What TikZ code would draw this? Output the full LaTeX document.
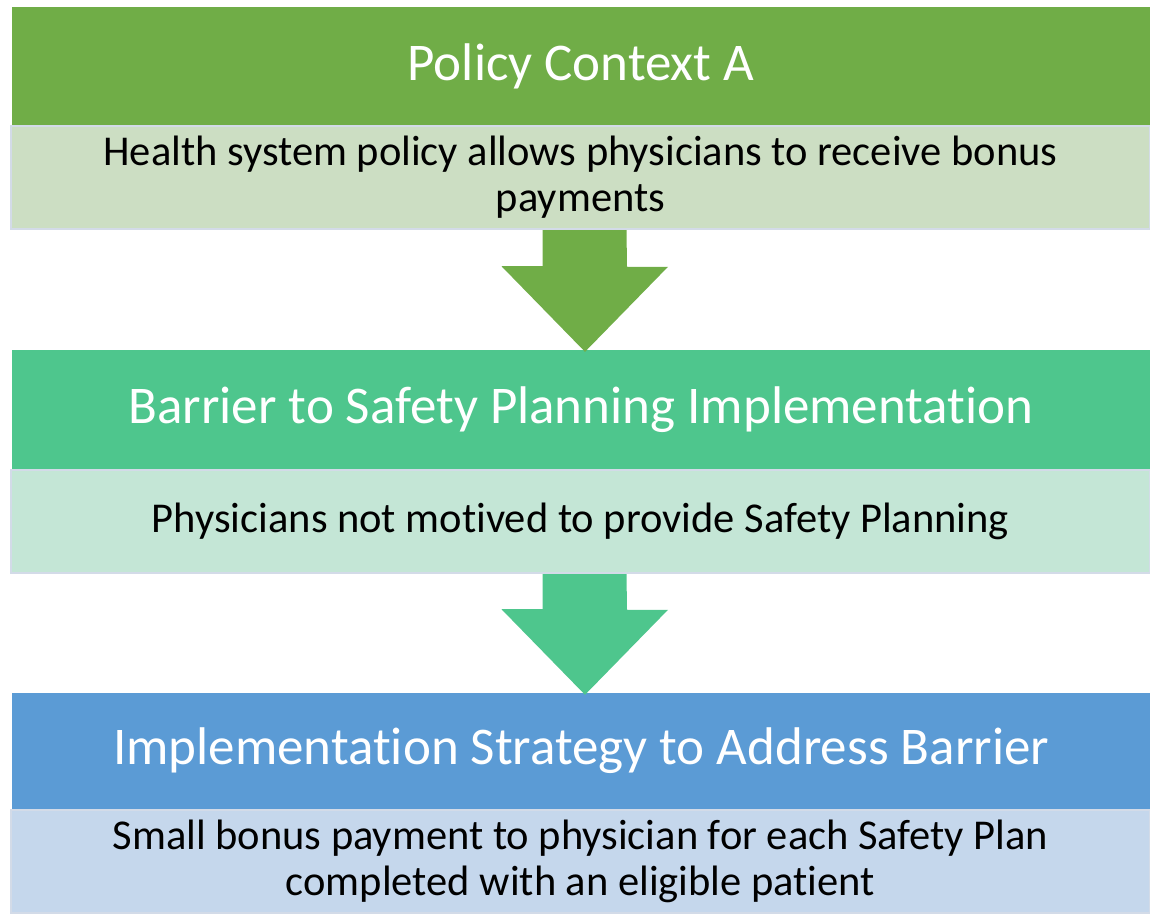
\documentclass[tikz,border=0pt]{standalone}
\usepackage{fontspec}
\setmainfont{Carlito}[Ligatures=NoCommon]
\usepackage{xcolor}
\usepackage{tikz}
\usetikzlibrary{positioning}

\definecolor{policygreen}{HTML}{70AD47}
\definecolor{policylight}{HTML}{CCDEC3}
\definecolor{barrierteal}{HTML}{4EC68D}
\definecolor{barrierlight}{HTML}{C4E6D6}
\definecolor{strategyblue}{HTML}{5B9BD5}
\definecolor{strategylight}{HTML}{C5D7EC}
\definecolor{bodyedge}{HTML}{D3DBE8}

\begin{document}
\begin{tikzpicture}[x=1pt, y=1pt,
    header/.style={rectangle, minimum width=1138pt, inner sep=0pt, text=white,
        font=\fontsize{53}{62}\selectfont},
    body/.style={rectangle, draw=bodyedge, line width=2.5pt, minimum width=1139pt,
        minimum height=103pt, inner sep=0pt, align=center, font=\fontsize{42.5}{46}\selectfont}]
            \useasboundingbox (0,0) rectangle (1150,913);

            % Bodies
            \node[body, fill=policylight] (B1) at (580.5,735.5) {Health system policy allows physicians to receive bonus\\payments};
            \node[body, fill=barrierlight] (B2) at (580.5,391.5) {Physicians not motived to provide Safety Planning};
            \node[body, fill=strategylight] (B3) at (580.5,51.5) {Small bonus payment to physician for each Safety Plan\\completed with an eligible patient};

            % Headers
            \node[header, fill=policygreen, minimum height=118pt] (H1) at (581,847) {Policy Context A};
            \node[header, fill=barrierteal, minimum height=119pt] (H2) at (581,503.5) {Barrier to Safety Planning Implementation};
            \node[header, fill=strategyblue, minimum height=116pt] (H3) at (581,162) {Implementation Strategy to Address Barrier};

            % Arrows
            \fill[policygreen] ([xshift=-38pt]B1.south) -- ++(0,-36) -- ++(-41,0)
                -- ([xshift=4pt,yshift=-2pt]H2.north) -- ++(83,85) -- ++(-41,0) -- ([xshift=46pt]B1.south) -- cycle;
            \fill[barrierteal] ([xshift=-38pt]B2.south) -- ++(0,-35) -- ++(-41,0)
                -- ([xshift=4pt,yshift=-2pt]H3.north) -- ++(83,85) -- ++(-41,0) -- ([xshift=46pt]B2.south) -- cycle;
        \end{tikzpicture}
\end{document}
